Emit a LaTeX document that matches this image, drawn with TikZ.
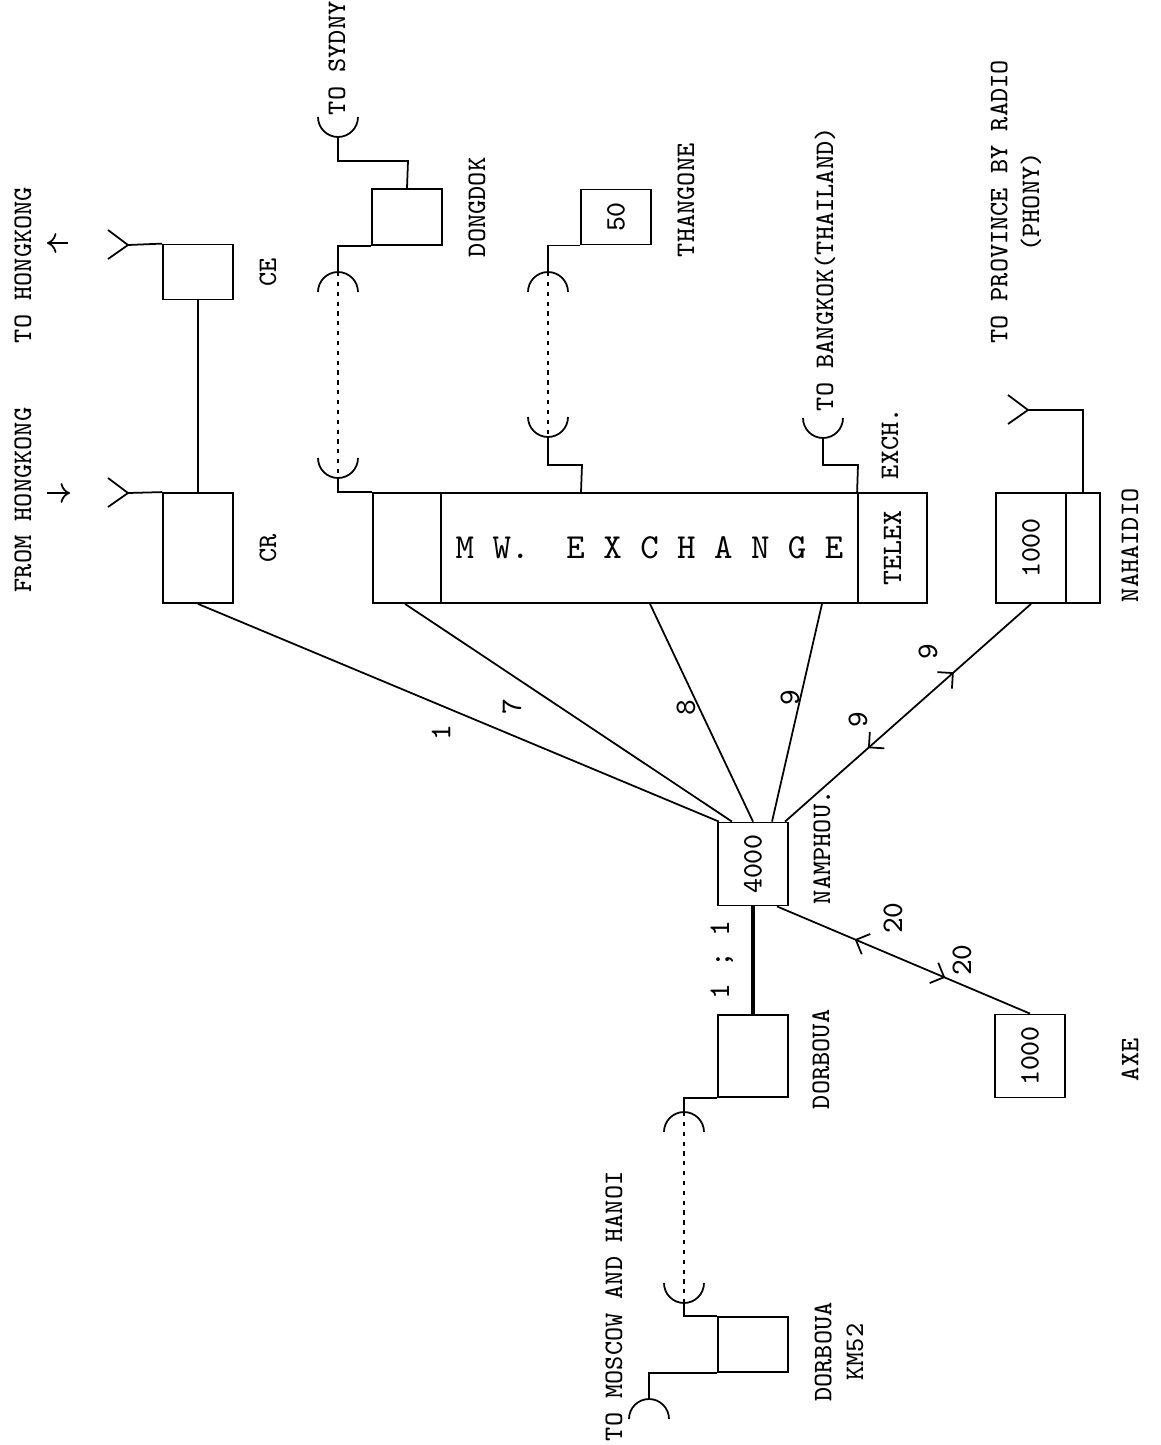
\documentclass[tikz,border=0pt]{standalone}
\usepackage{graphicx}
\usepackage{tikz}
\usetikzlibrary{calc,arrows.meta,decorations.markings}

\begin{document}
\begin{tikzpicture}[x=0.01cm,y=-0.01cm,>=To,line width=0.5pt,
  box/.style={draw,inner sep=0pt,minimum width=0.7cm,minimum height=#1,
    font=\fontsize{8}{9}\selectfont\ttfamily},
  lbl/.style={rotate=90,inner sep=0pt,font=\fontsize{7.6}{9}\selectfont\ttfamily},
  num/.style={rotate=90,inner sep=0pt,font=\fontsize{8.5}{9}\selectfont\ttfamily},
  link/.style={dash pattern=on 1.2pt off 1.6pt},
  twoway/.style={postaction={decorate},decoration={markings,
    mark=at position 0.355 with {\arrow{Straight Barb[reversed,length=1.1mm,width=2.2mm]}},
    mark=at position 0.665 with {\arrow{Straight Barb[length=1.1mm,width=2.2mm]}}}}]
  \fill[white] (0,0) rectangle (1160,1445);
  \useasboundingbox (0,0) rectangle (1160,1445);

  % stations
  \node[box=0.55cm] (ce) at (198,272) {};
  \node[box=1.1cm] (cr) at (198,548) {};
  \node[box=0.56cm] (dongdok) at (407,217) {};
  \node[box=0.55cm] (thangone) at (616,217) {\rotatebox{90}{50}};
  \node[box=1.1cm,minimum width=0.68cm] (mwl) at (407,548) {};
  \node[box=1.1cm,minimum width=4.17cm,font=\fontsize{10}{11}\selectfont\ttfamily]
    (mw) at (649.5,548) {M W.\ \ E X C H A N G E\ };
  \node[box=1.1cm,minimum width=0.69cm] (telex) at (892.5,548) {\rotatebox{90}{TELEX}};
  \node[box=1.1cm] (nah) at (1031,548) {\rotatebox{90}{1000}};
  \node[box=1.1cm,minimum width=0.34cm] (nahr) at (1083,548) {};
  \node[box=0.83cm] (namphou) at (753,864) {\rotatebox{90}{4000}};
  \node[box=0.82cm] (dorboua) at (753,1056) {};
  \node[box=0.83cm] (axe) at (1030,1056) {\rotatebox{90}{1000}};
  \node[box=0.55cm] (km52) at (753,1344.5) {};

  % labels
  \node[lbl] (tohk) at (23,265) {TO HONGKONG};
  \node[lbl] (fromhk) at (23,500) {FROM HONGKONG};
  \node[lbl] at (268,272) {CE};
  \node[lbl] at (268,548) {CR};
  \node[lbl,anchor=west] (tosyd) at (337,116) {TO SYDNY};
  \node[lbl,anchor=west] at (477,258) {DONGDOK};
  \node[lbl,anchor=west] at (686,258) {THANGONE};
  \node[lbl,anchor=west] (tobkk) at (825,412) {TO BANGKOK(THAILAND)};
  \node[lbl,anchor=west] at (890,480) {EXCH.};
  \node[lbl,align=center] at (1016,202) {TO PROVINCE BY RADIO\\(PHONY)};
  \node[lbl,anchor=west] at (1130,603) {NAHAIDIO};
  \node[lbl,anchor=west] at (822,905) {NAMPHOU.};
  \node[lbl,anchor=west] at (821,1110) {DORBOUA};
  \node[lbl,anchor=west] at (1130,1082) {AXE};
  \node[lbl,align=center] at (839,1352) {DORBOUA\\KM52};
  \node[lbl,anchor=west] (tomos) at (614,1442) {TO MOSCOW AND HANOI};

  % antennas
  \coordinate (ceant) at (128,245);
  \coordinate (crant) at (128,493);
  \coordinate (nahant) at (1028,410);
  \foreach \a in {ceant,crant,nahant}
    \draw (\a) -- ++(-20,-15) (\a) -- ++(-20,14);
  \draw (ceant) -- (ce.north west);
  \draw (crant) -- (cr.north west);
  \draw (nahant) -| (nahr.north);
  \draw (cr.north) -- (ce.south);
  \draw[->] (68,243) -- (47,243);
  \draw[->] (47,493) -- (70,493);

  % dishes: u = opening up (bottom point), d = opening down (top point)
  \coordinate (sydu) at (338,137);
  \coordinate (dongd) at (338,272);
  \coordinate (dongu) at (338,478);
  \coordinate (thand) at (548,272);
  \coordinate (thanu) at (548,437);
  \coordinate (bkku) at (823,438);
  \coordinate (dord) at (684,1112);
  \coordinate (doru) at (684,1303);
  \coordinate (mosd) at (649,1399);
  \foreach \d in {sydu,dongu,thanu,bkku,doru}
    \draw ([xshift=-0.2cm,yshift=0.2cm]\d) arc[start angle=180,end angle=0,radius=20];
  \foreach \d in {dongd,thand,dord,mosd}
    \draw ([xshift=-0.2cm,yshift=-0.2cm]\d) arc[start angle=180,end angle=360,radius=20];

  % dongdok
  \draw (sydu) |- ++(70,24) -- (dongdok.north);
  \draw (dongdok.south west) -| (dongd);
  \draw[link] (dongd) -- (dongu);
  \draw (dongu) |- (mwl.north west);
  % thangone
  \draw (thangone.south west) -| (thand);
  \draw[link] (thand) -- (thanu);
  \draw (thanu) |- ++(34,28) -- ($(mw.north west)+(141,0)$);
  % bangkok
  \draw (bkku) |- ++(35,27) -- (telex.north west);

  % trunks from namphou
  \draw (cr.south) -- ([xshift=-0.34cm]namphou.north);
  \draw ([xshift=-0.02cm]mwl.south) -- ([xshift=-0.21cm]namphou.north);
  \draw ($(mw.south west)+(210,0)$) -- (namphou.north);
  \draw ($(mw.south west)+(382,0)$) -- ([xshift=0.19cm]namphou.north);
  \draw[twoway] (nah.south) -- ([xshift=0.32cm]namphou.north);
  \draw[twoway] ([xshift=0.24cm]namphou.south) -- (axe.north);
  \draw[line width=1pt] (namphou.south) -- (dorboua.north);

  % dorboua
  \draw (dorboua.south west) -| (dord);
  \draw[link] (dord) -- (doru);
  \draw (doru) |- (km52.north west);
  \draw (km52.south west) -| (mosd);

  % trunk sizes
  \node[num] at (441,733) {1};
  \node[num] at (512,707) {7};
  \node[num] at (686,708) {8};
  \node[num] at (790,698) {9};
  \node[num] at (858,720) {9};
  \node[num] at (928,652) {9};
  \node[num] at (722,960) {1 ; 1};
  \node[num] at (893,918) {20};
  \node[num] at (962,960) {20};
\end{tikzpicture}
\end{document}
